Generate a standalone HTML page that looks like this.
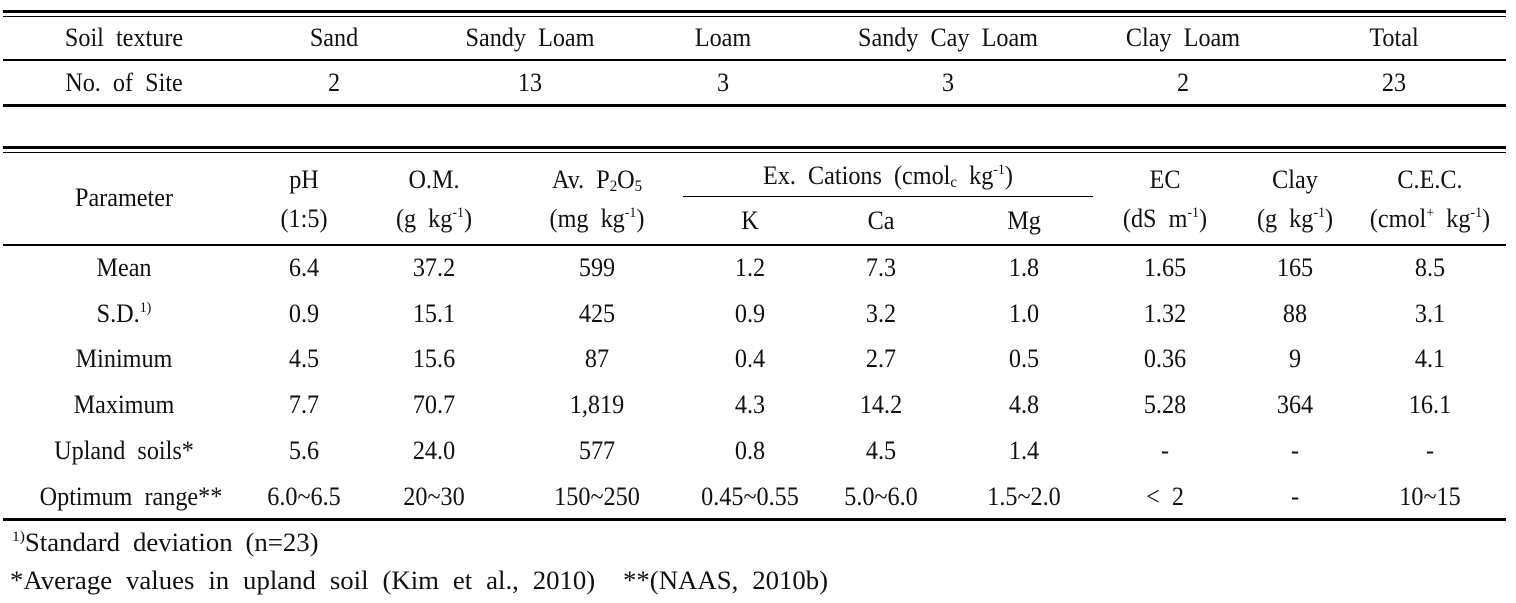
<!DOCTYPE html>
<html><head><meta charset="utf-8"><style>
body{margin:0;background:#fff;}
#c{position:relative;width:1516px;height:603px;overflow:hidden;font-family:"Liberation Serif",serif;font-size:26px;color:#111;}
.t{position:absolute;white-space:nowrap;line-height:1;transform:translate(-50%,-50%) scaleX(.93);}
.l{position:absolute;white-space:nowrap;line-height:1;transform-origin:0 50%;transform:translateY(-50%) scaleX(1.03);}
.h{position:absolute;background:#000;left:3px;width:1503px;}
sup{font-size:15px;vertical-align:10px;line-height:0}
sub{font-size:16px;vertical-align:-3px;line-height:0}
</style></head><body><div id="c">
<div class="h" style="top:10px;height:3px"></div>
<div class="h" style="top:16px;height:1px"></div>
<div class="h" style="top:59px;height:2px"></div>
<div class="h" style="top:104px;height:3px"></div>
<div class="h" style="top:146px;height:3px"></div>
<div class="h" style="top:152px;height:1px"></div>
<div class="h" style="top:196px;height:1px;left:683px;width:410px"></div>
<div class="h" style="top:244px;height:2px"></div>
<div class="h" style="top:518px;height:3px"></div>

<div class="t" style="left:124px;top:38px">Soil&nbsp; texture</div>
<div class="t" style="left:334px;top:38px">Sand</div>
<div class="t" style="left:530px;top:38px">Sandy&nbsp; Loam</div>
<div class="t" style="left:723px;top:38px">Loam</div>
<div class="t" style="left:948px;top:38px">Sandy&nbsp; Cay&nbsp; Loam</div>
<div class="t" style="left:1183px;top:38px">Clay&nbsp; Loam</div>
<div class="t" style="left:1394px;top:38px">Total</div>
<div class="t" style="left:124px;top:83px">No.&nbsp; of&nbsp; Site</div>
<div class="t" style="left:334px;top:83px">2</div>
<div class="t" style="left:530px;top:83px">13</div>
<div class="t" style="left:723px;top:83px">3</div>
<div class="t" style="left:948px;top:83px">3</div>
<div class="t" style="left:1183px;top:83px">2</div>
<div class="t" style="left:1394px;top:83px">23</div>

<div class="t" style="left:124px;top:198px">Parameter</div>
<div class="t" style="left:304px;top:180px">pH</div>
<div class="t" style="left:304px;top:219px">(1:5)</div>
<div class="t" style="left:434px;top:180px">O.M.</div>
<div class="t" style="left:434px;top:219px">(g&nbsp; kg<sup>-1</sup>)</div>
<div class="t" style="left:597px;top:180px">Av.&nbsp; P<sub>2</sub>O<sub>5</sub></div>
<div class="t" style="left:597px;top:219px">(mg&nbsp; kg<sup>-1</sup>)</div>
<div class="t" style="left:888px;top:176px">Ex.&nbsp; Cations&nbsp; (cmol<sub>c</sub>&nbsp; kg<sup>-1</sup>)</div>
<div class="t" style="left:750px;top:221px">K</div>
<div class="t" style="left:881px;top:221px">Ca</div>
<div class="t" style="left:1024px;top:221px">Mg</div>
<div class="t" style="left:1165px;top:180px">EC</div>
<div class="t" style="left:1165px;top:219px">(dS&nbsp; m<sup>-1</sup>)</div>
<div class="t" style="left:1295px;top:180px">Clay</div>
<div class="t" style="left:1295px;top:219px">(g&nbsp; kg<sup>-1</sup>)</div>
<div class="t" style="left:1430px;top:180px">C.E.C.</div>
<div class="t" style="left:1430px;top:219px">(cmol<sup>+</sup>&nbsp; kg<sup>-1</sup>)</div>

<div class="t" style="left:124px;top:268px">Mean</div>
<div class="t" style="left:304px;top:268px">6.4</div><div class="t" style="left:434px;top:268px">37.2</div><div class="t" style="left:597px;top:268px">599</div><div class="t" style="left:750px;top:268px">1.2</div><div class="t" style="left:881px;top:268px">7.3</div><div class="t" style="left:1024px;top:268px">1.8</div><div class="t" style="left:1165px;top:268px">1.65</div><div class="t" style="left:1295px;top:268px">165</div><div class="t" style="left:1430px;top:268px">8.5</div>

<div class="t" style="left:124px;top:314px">S.D.<sup>1)</sup></div>
<div class="t" style="left:304px;top:314px">0.9</div><div class="t" style="left:434px;top:314px">15.1</div><div class="t" style="left:597px;top:314px">425</div><div class="t" style="left:750px;top:314px">0.9</div><div class="t" style="left:881px;top:314px">3.2</div><div class="t" style="left:1024px;top:314px">1.0</div><div class="t" style="left:1165px;top:314px">1.32</div><div class="t" style="left:1295px;top:314px">88</div><div class="t" style="left:1430px;top:314px">3.1</div>

<div class="t" style="left:124px;top:359px">Minimum</div>
<div class="t" style="left:304px;top:359px">4.5</div><div class="t" style="left:434px;top:359px">15.6</div><div class="t" style="left:597px;top:359px">87</div><div class="t" style="left:750px;top:359px">0.4</div><div class="t" style="left:881px;top:359px">2.7</div><div class="t" style="left:1024px;top:359px">0.5</div><div class="t" style="left:1165px;top:359px">0.36</div><div class="t" style="left:1295px;top:359px">9</div><div class="t" style="left:1430px;top:359px">4.1</div>

<div class="t" style="left:124px;top:405px">Maximum</div>
<div class="t" style="left:304px;top:405px">7.7</div><div class="t" style="left:434px;top:405px">70.7</div><div class="t" style="left:597px;top:405px">1,819</div><div class="t" style="left:750px;top:405px">4.3</div><div class="t" style="left:881px;top:405px">14.2</div><div class="t" style="left:1024px;top:405px">4.8</div><div class="t" style="left:1165px;top:405px">5.28</div><div class="t" style="left:1295px;top:405px">364</div><div class="t" style="left:1430px;top:405px">16.1</div>

<div class="t" style="left:124px;top:451px">Upland&nbsp; soils*</div>
<div class="t" style="left:304px;top:451px">5.6</div><div class="t" style="left:434px;top:451px">24.0</div><div class="t" style="left:597px;top:451px">577</div><div class="t" style="left:750px;top:451px">0.8</div><div class="t" style="left:881px;top:451px">4.5</div><div class="t" style="left:1024px;top:451px">1.4</div><div class="t" style="left:1165px;top:451px">-</div><div class="t" style="left:1295px;top:451px">-</div><div class="t" style="left:1430px;top:451px">-</div>

<div class="t" style="left:131px;top:497px">Optimum&nbsp; range**</div>
<div class="t" style="left:304px;top:497px">6.0~6.5</div><div class="t" style="left:434px;top:497px">20~30</div><div class="t" style="left:597px;top:497px">150~250</div><div class="t" style="left:750px;top:497px">0.45~0.55</div><div class="t" style="left:881px;top:497px">5.0~6.0</div><div class="t" style="left:1024px;top:497px">1.5~2.0</div><div class="t" style="left:1165px;top:497px">&lt;&nbsp; 2</div><div class="t" style="left:1295px;top:497px">-</div><div class="t" style="left:1430px;top:497px">10~15</div>

<div class="l" style="left:12px;top:543px;word-spacing:6px"><sup>1)</sup>Standard deviation (n=23)</div>
<div class="l" style="left:10px;top:581px;word-spacing:7px">*Average values in upland soil (Kim et al., 2010) &nbsp;**(NAAS, 2010b)</div>
</div></body></html>
